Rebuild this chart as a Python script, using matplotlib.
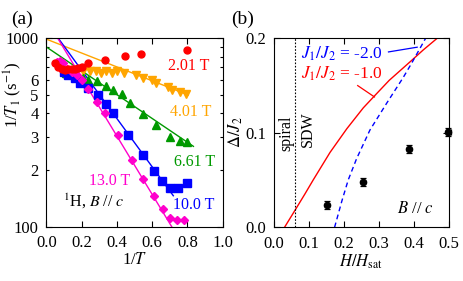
import matplotlib
matplotlib.use("Agg")
import matplotlib.pyplot as plt
import matplotlib.ticker as mticker
import numpy as np

plt.rcParams['font.family'] = ['Liberation Serif', 'DejaVu Serif']
plt.rcParams['mathtext.fontset'] = 'stix'

# ---------------- panel (a) data ----------------
red_x = [0.049, 0.068, 0.087, 0.106, 0.125, 0.144, 0.163, 0.181, 0.200, 0.238, 0.335, 0.448, 0.535, 0.800]
red_y = [735, 705, 690, 682, 685, 685, 690, 697, 705, 735, 771, 802, 828, 863]

orange_x = [0.10, 0.13, 0.17, 0.21, 0.25, 0.28, 0.31, 0.34, 0.37, 0.40, 0.44, 0.51, 0.55, 0.60, 0.62, 0.69, 0.71, 0.76, 0.79]
orange_y = [650, 660, 665, 670, 672, 673, 656, 673, 652, 668, 652, 638, 614, 601, 577, 553, 532, 521, 508]

green_x = [0.11, 0.145, 0.172, 0.21, 0.238, 0.285, 0.338, 0.38, 0.427, 0.474, 0.55, 0.62, 0.70, 0.758, 0.796]
green_y = [655, 650, 637, 619, 600, 596, 558, 531, 505, 452, 395, 345, 300, 284, 280]

blue_x = [0.10, 0.125, 0.163, 0.191, 0.238, 0.295, 0.338, 0.380, 0.465, 0.550, 0.610, 0.658, 0.701, 0.748, 0.800]
blue_y = [660, 637, 612, 581, 542, 500, 449, 401, 308, 241, 197, 174, 160, 160, 170]

mag_x = [0.059, 0.078, 0.096, 0.115, 0.144, 0.172, 0.200, 0.238, 0.285, 0.333, 0.408, 0.486, 0.550, 0.609, 0.661, 0.703, 0.739, 0.780]
mag_y = [750, 759, 735, 690, 664, 637, 600, 535, 461, 401, 305, 227, 180, 145, 124, 111, 108, 108]

# fit lines (end points, straight on log axis)
orange_fit_x = [0.0, 0.805]
orange_fit_y = [990, 500]
green_fit_x = [0.0, 0.834]
green_fit_y = [900, 267]
blue_fit_x = [0.068, 0.72]
blue_fit_y = [1000, 146]
mag_fit_x = [0.065, 0.711]
mag_fit_y = [1000, 100]

field_labels = ["2.01 T", "4.01 T", "6.61 T", "10.0 T", "13.0 T"]

# ---------------- panel (b) data ----------------
th1_x = [0.031, 0.061, 0.089, 0.113, 0.161, 0.209, 0.256, 0.289, 0.33, 0.394, 0.427, 0.469]
th1_y = [0.0, 0.018, 0.035, 0.050, 0.079, 0.104, 0.126, 0.139, 0.155, 0.176, 0.187, 0.2]

th2_x = [0.174, 0.195, 0.213, 0.237, 0.275, 0.323, 0.370, 0.394, 0.435]
th2_y = [0.0, 0.028, 0.050, 0.0725, 0.1026, 0.131, 0.158, 0.173, 0.2]

boundary_x = 0.062

exp_x = [0.153, 0.254, 0.387, 0.499]
exp_y = [0.0235, 0.048, 0.0823, 0.1008]
exp_yerr = [0.004, 0.004, 0.004, 0.004]
exp_xerr = [0.0, 0.0, 0.0, 0.008]

C_RED = '#ff0000'
C_ORANGE = '#ffa500'
C_GREEN = '#009900'
C_BLUE = '#0000ff'
C_MAG = '#ff00cc'

fig = plt.figure(figsize=(4.63, 2.81), dpi=100)
axa = fig.add_axes([0.100, 0.1932, 0.381, 0.6705])
axb = fig.add_axes([0.5911, 0.1911, 0.378, 0.6747])

TICK_FS = 12
LAB_FS = 11.5

# ---- panel (a) ----
axa.set_yscale('log')
axa.plot(orange_fit_x, orange_fit_y, color=C_ORANGE, lw=1.0, zorder=2)
axa.plot(green_fit_x, green_fit_y, color=C_GREEN, lw=1.0, zorder=2)
axa.plot(blue_fit_x, blue_fit_y, color=C_BLUE, lw=1.0, zorder=2)
axa.plot(mag_fit_x, mag_fit_y, color=C_MAG, lw=1.0, zorder=2)

axa.plot(orange_x, orange_y, 'v', color=C_ORANGE, ms=6, mec=C_ORANGE, ls='none', zorder=3)
axa.plot(green_x, green_y, '^', color=C_GREEN, ms=6, mec=C_GREEN, ls='none', zorder=3)
axa.plot(blue_x, blue_y, 's', color=C_BLUE, ms=5.5, mec=C_BLUE, ls='none', zorder=3)
axa.plot(mag_x, mag_y, 'D', color=C_MAG, ms=4.5, mec=C_MAG, ls='none', zorder=4)
axa.plot(red_x, red_y, 'o', color=C_RED, ms=5, mec=C_RED, ls='none', zorder=5)

axa.set_xlim(0, 1.0)
axa.set_ylim(100, 1000)
axa.xaxis.set_major_locator(mticker.MultipleLocator(0.2))
axa.xaxis.set_major_formatter(mticker.FormatStrFormatter('%.1f'))
axa.yaxis.set_major_locator(mticker.FixedLocator([100, 1000]))
axa.yaxis.set_major_formatter(mticker.FixedFormatter(['100', '1000']))
minor_vals = [200, 300, 400, 500, 600, 700, 800, 900]
minor_labs = ['2', '3', '4', '5', '6', '', '', '']
axa.yaxis.set_minor_locator(mticker.FixedLocator(minor_vals))
axa.yaxis.set_minor_formatter(mticker.FixedFormatter(minor_labs))

for ax in (axa, axb):
    ax.tick_params(which='both', direction='in', top=True, right=True, labelsize=TICK_FS, width=0.8)
    ax.tick_params(which='major', length=4)
    ax.tick_params(which='minor', length=2.2)
    ax.tick_params(axis='x', which='both', pad=6)
    ax.tick_params(axis='y', which='both', pad=5.5)
    for s in ax.spines.values():
        s.set_linewidth(0.8)

axa.set_xlabel('1/$T$', fontsize=TICK_FS, labelpad=1)
axa.set_ylabel('1/$T_1$ (s$^{-1}$)', fontsize=TICK_FS)
axa.yaxis.set_label_coords(-0.125, 0.70)

axa.text(0.81, 714, field_labels[0], color=C_RED, fontsize=LAB_FS, ha='center', va='center')
axa.text(0.819, 404, field_labels[1], color=C_ORANGE, fontsize=LAB_FS, ha='center', va='center')
axa.text(0.838, 221, field_labels[2], color=C_GREEN, fontsize=LAB_FS, ha='center', va='center')
axa.text(0.834, 131, field_labels[3], color=C_BLUE, fontsize=LAB_FS, ha='center', va='center')
axa.text(0.357, 175, field_labels[4], color=C_MAG, fontsize=LAB_FS, ha='center', va='center')
axa.text(0.27, 136, '$^{1}$H, $B$ // $c$', color='black', fontsize=LAB_FS, ha='center', va='center')

# ---- panel (b) ----
axb.plot(th1_x, th1_y, color=C_RED, lw=1.0)
axb.plot(th2_x, th2_y, color=C_BLUE, lw=1.0, ls=(0, (3.5, 2.5)))
axb.axvline(boundary_x, color='black', lw=0.8, ls=(0, (1.5, 1.5)))
axb.errorbar(exp_x, exp_y, yerr=exp_yerr, xerr=exp_xerr, fmt='o', color='black', ms=4.5,
             elinewidth=0.9, capsize=2, capthick=0.9, zorder=5, clip_on=False)
axb.set_xlim(0, 0.5)
axb.set_ylim(0, 0.2)
axb.xaxis.set_major_locator(mticker.MultipleLocator(0.1))
axb.yaxis.set_major_locator(mticker.MultipleLocator(0.1))
axb.xaxis.set_major_formatter(mticker.FormatStrFormatter('%.1f'))
axb.yaxis.set_major_formatter(mticker.FormatStrFormatter('%.1f'))
axb.set_xlabel('$H/H_{\\rm sat}$', fontsize=TICK_FS, labelpad=1)
axb.set_ylabel('$\\Delta/J_2$', fontsize=TICK_FS)
axb.yaxis.set_label_coords(-0.165, 0.5)

axb.text(0.195, 0.183, '$J_1/J_2$ = -2.0', color=C_BLUE, fontsize=12.5, ha='center', va='center')
axb.text(0.195, 0.162, '$J_1/J_2$ = -1.0', color=C_RED, fontsize=12.5, ha='center', va='center')
axb.plot([0.328, 0.41], [0.185, 0.19], color=C_BLUE, lw=0.9)
axb.plot([0.240, 0.288], [0.1495, 0.1375], color=C_RED, lw=0.9)
axb.text(0.0374, 0.099, 'spiral', rotation=90, fontsize=LAB_FS, ha='center', va='center')
axb.text(0.0966, 0.104, 'SDW', rotation=90, fontsize=LAB_FS, ha='center', va='center')
axb.text(0.405, 0.019, '$B$ // $c$', fontsize=12, ha='center', va='center')

fig.text(22.5 / 463, 1 - 19 / 281, '(a)', fontsize=14, ha='center', va='center')
fig.text(242.5 / 463, 1 - 19 / 281, '(b)', fontsize=14, ha='center', va='center')

fig.savefig('out.png', dpi=100)
